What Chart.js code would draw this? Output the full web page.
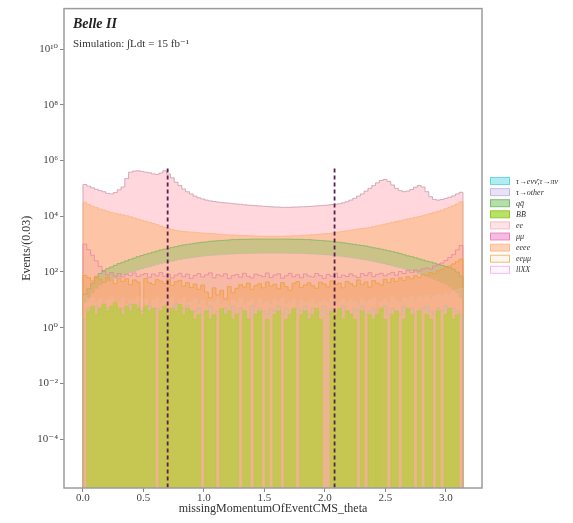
<!DOCTYPE html>
<html><head><meta charset="UTF-8"><title>missingMomentumOfEventCMS_theta</title>
<script src="https://cdn.jsdelivr.net/npm/chart.js"></script>
<style>html,body{margin:0;padding:0;background:#fff;}</style>
</head><body>
<canvas id="c" width="573" height="523"></canvas>
<script>
// --- binning ---
const X_MAX = Math.PI;
const N_BINS = 100;
const BIN_W = X_MAX / N_BINS;
const FLOOR = 1e-9; // empty bins drop below the axis

// --- series (events per bin) ---
const labels = ['τ→eνν̄,τ→πν', 'τ→other', 'qq̄', 'BB̄', 'ee', 'μμ', 'eeee', 'eeμμ', 'llXX'];

const tauLep = [2,5,4,6,3,7,5,4,6,3, 5,4,7,3,6,5,4,6,3,5, 4,6,5,3,7,4,5,6,3,4, 5,3,4,6,2,4,3,5,4,6,
  3,5,4,2,6,3,5,4,3,5, 4,6,3,5,4,2,5,4,6,3, 5,3,4,6,3,5,4,3,6,4, 3,5,4,6,3,4,5,0,4,6,
  3,5,4,3,6,4,5,3,4,5, 6,4,3,5,4,6,3,5,4,3];
const tauOther = [8,12,18,26,34,42,48,54,60,68, 76,85,95,105,118,130,142,155,170,185, 200,215,230,245,262,280,298,312,326,340,
  355,368,380,392,402,412,420,428,436,444, 450,455,460,462,465,468,470,470,472,472, 472,470,470,468,466,463,460,456,452,446,
  440,432,424,415,405,395,382,370,356,342, 328,312,298,282,268,252,238,222,208,194, 180,166,154,141,130,118,108,98,88,79,
  70,62,55,48,42,36,30,24,18,12];
const qq = [16,25,40,63,89,112,132,151,174,200, 224,251,282,316,355,389,427,468,513,562, 617,661,708,759,813,871,933,977,1020,1070,
  1120,1170,1200,1260,1290,1320,1350,1380,1410,1450, 1450,1480,1480,1480,1510,1510,1510,1510,1510,1510, 1510,1510,1510,1510,1510,1480,1480,1480,1450,1450,
  1410,1380,1350,1320,1290,1260,1200,1170,1120,1070, 1020,977,933,891,851,794,741,708,661,617, 575,537,501,457,417,380,355,324,295,269,
  245,229,209,191,174,158,145,126,100,71];
const bb = [0,4,6,3,5,7,4,6,8,5, 3,6,4,7,5,3,6,4,5,0, 4,6,3,5,4,7,3,5,4,2, 3,0,4,2,3,0,5,3,4,2,
  3,0,4,2,0,3,4,0,2,0, 3,4,0,2,3,5,0,3,4,2, 3,5,2,0,0,4,3,5,2,4, 3,2,0,4,0,3,2,3,5,2,
  0,3,4,0,2,5,3,0,4,0, 3,2,0,4,0,3,5,2,3,0];
const ee = [138000,120000,105000,93000,83000,76000,66000,63000,71000,89000, 112000,224000,380000,417000,427000,407000,380000,363000,331000,316000,
  355000,427000,331000,240000,166000,126000,95000,76000,63000,52500, 45700,41700,38000,35500,33900,32400,30900,30200,29500,28200,
  27500,26900,25700,25100,24500,24000,23400,22900,22400,21900, 21400,21400,20900,20900,20900,21400,21400,21900,21900,22400,
  22900,23400,24000,24500,25100,26300,26900,28200,30200,33100, 38000,43700,52500,63000,79400,100000,126000,158000,191000,209000,
  178000,132000,100000,83000,76000,79400,91200,110000,126000,112000, 76000,50100,39800,38000,39800,43700,47900,53700,63000,72400];
const mumu = [1000,630,400,250,160,105,78,95,70,88, 66,82,74,92,68,79,88,64,85,72, 95,70,83,61,77,90,68,84,59,75,
  88,66,79,93,62,80,71,86,58,74, 82,65,90,70,61,84,76,68,92,63, 78,86,60,73,89,67,80,62,85,71,
  66,88,74,59,82,70,91,64,77,69, 86,72,63,88,75,94,68,82,90,73, 85,97,76,104,88,112,95,120,108,130,
  140,128,165,180,210,260,330,420,620,900];
const eeee = [31600,26300,22900,20400,18200,16600,15100,13800,12900,12000, 11200,10500,9550,8710,7940,7240,6610,6030,5500,5010,
  4470,3980,3550,3310,3090,2950,2880,2750,2690,2630, 2570,2510,2450,2400,2340,2290,2240,2190,2140,2140,
  2090,2040,2040,2000,2000,1950,1950,1910,1910,1910, 1910,1910,1910,1950,1950,2000,2000,2040,2090,2140,
  2190,2240,2290,2340,2400,2510,2630,2750,2880,3020, 3160,3310,3470,3630,3800,3980,4270,4570,4900,5250,
  5620,6030,6460,6920,7410,7940,8510,9120,9770,10500, 11500,12600,13800,15100,16600,18600,20900,24000,27500,33100];
const eemumu = [75,62,48,70,55,42,66,51,38,60, 46,57,35,52,44,4,58,41,36,53, 47,39,55,33,45,50,31,42,28,37,
  24,34,19,12,27,15,22,11,30,18, 26,35,29,40,24,33,38,27,44,31, 36,25,42,30,22,39,45,28,34,41,
  32,26,43,37,29,48,35,40,27,46, 38,31,52,36,44,29,49,40,34,55, 42,58,46,62,50,68,57,74,64,82,
  76,95,88,110,125,140,165,195,240,290];
const llxx = [14,9,12,8,11,7,10,13,8,9, 12,7,10,9,13,8,11,6,10,12, 8,11,9,13,7,10,12,8,9,11,
  7,10,6,9,8,11,7,9,6,10, 8,12,7,9,10,6,11,8,9,7, 10,8,12,7,9,11,6,10,8,9,
  11,7,9,10,8,12,7,9,11,8, 10,9,7,11,8,10,12,0,9,11, 8,13,10,9,12,11,14,10,13,12,
  15,11,14,16,13,18,15,20,22,26];

// cut positions and axis ticks
const cutLines = [0.7, 2.08];
const cutTop = 5.2e5;
const xTicks = [0, 0.5, 1.0, 1.5, 2.0, 2.5, 3.0];
const yTickExps = [-4, -2, 0, 2, 4, 6, 8, 10];

// --- style: [data, fill, edge, draw order (higher = further back), fill target] ---
// qq̄ is shaded only down to the τ→other line, the rest down to the axis
const series = [
  [tauLep,   'rgba(80,215,225,0.06)',  'rgba(120,200,200,0.25)', 2, 'start'],
  [tauOther, 'rgba(200,170,220,0.08)', 'rgba(200,170,200,0.35)', 7, 'start'],
  [qq,       'rgba(120,190,90,0.38)',  'rgba(120,180,90,0.75)', 6, 1],
  [bb,       'rgba(175,210,45,0.62)',  'rgba(175,205,45,0.45)', 1, 'start'],
  [ee,       'rgba(255,182,193,0.55)', 'rgba(200,160,175,0.85)', 9, 'start'],
  [mumu,     'rgba(245,130,150,0.16)', 'rgba(230,120,160,0.65)', 5, 'start'],
  [eeee,     'rgba(250,175,100,0.45)', 'rgba(250,175,110,0.6)', 8, 'start'],
  [eemumu,   'rgba(245,160,85,0.45)',  'rgba(240,160,60,0.85)', 4, 'start'],
  [llxx,     'rgba(255,205,235,0.10)', 'rgba(225,190,160,0.5)', 3, 'start']
];
// legend swatches as they appear in the key
const swatches = [
  ['rgba(80,215,225,0.45)',  'rgba(60,205,220,0.7)'],
  ['rgba(205,190,230,0.45)', 'rgba(185,165,215,0.7)'],
  ['rgba(120,195,100,0.55)', 'rgba(100,180,90,0.8)'],
  ['rgba(160,215,50,0.75)',  'rgba(140,200,40,0.9)'],
  ['rgba(255,192,200,0.45)', 'rgba(240,180,185,0.8)'],
  ['rgba(240,130,200,0.55)', 'rgba(230,120,190,0.8)'],
  ['rgba(255,170,110,0.5)',  'rgba(255,170,120,0.7)'],
  ['rgba(255,230,200,0.3)',  'rgba(240,180,100,0.9)'],
  ['rgba(255,225,250,0.3)',  'rgba(240,170,240,0.8)']
];

const SUP = {'0':'⁰','1':'¹','2':'²','3':'³','4':'⁴','5':'⁵','6':'⁶','7':'⁷','8':'⁸','9':'⁹','-':'⁻'};
const sup = s => String(s).split('').map(ch => SUP[ch]).join('');

// step outline: points at bin centres, steps half way = bin edges
function histPoints(vals) {
  const pts = [{x: 0, y: FLOOR}, {x: 0, y: vals[0] || FLOOR}];
  vals.forEach((v, i) => pts.push({x: (i + 0.5) * BIN_W, y: v || FLOOR}));
  pts.push({x: X_MAX, y: vals[vals.length - 1] || FLOOR}, {x: X_MAX, y: FLOOR});
  return pts;
}

const datasets = series.map((s, i) => ({
  label: labels[i],
  data: histPoints(s[0]),
  backgroundColor: s[1],
  borderColor: s[2],
  borderWidth: 1,
  fill: s[4],
  stepped: 'middle',
  pointRadius: 0,
  order: s[3]
}));
cutLines.forEach(x => datasets.push({
  label: 'cut',
  data: [{x: x, y: FLOOR}, {x: x, y: cutTop}],
  borderColor: '#5a1f4e',
  borderWidth: 1.8,
  borderDash: [4, 3],
  fill: false,
  pointRadius: 0,
  order: 0
}));

const SERIF = "'Liberation Serif', 'DejaVu Serif', serif";

// frame, Belle II label and the legend
const decor = {
  id: 'decor',
  afterDraw(chart) {
    const {ctx, chartArea: a} = chart;
    ctx.save();
    ctx.strokeStyle = '#9c9c9c';
    ctx.lineWidth = 1.5;
    ctx.strokeRect(a.left, a.top, a.right - a.left, a.bottom - a.top);

    ctx.fillStyle = '#222';
    ctx.textBaseline = 'alphabetic';
    ctx.font = 'bold italic 14px ' + SERIF;
    ctx.fillText('Belle II', 73, 28);
    ctx.fillStyle = '#333';
    ctx.font = '11px ' + SERIF;
    ctx.fillText('Simulation: ∫Ldt = 15 fb⁻¹', 73, 47);

    ctx.font = 'italic 8px ' + SERIF;
    ctx.textBaseline = 'middle';
    swatches.forEach((s, i) => {
      const y = 181 + i * 11.1;
      ctx.fillStyle = s[0];
      ctx.fillRect(490, y - 3.5, 20, 7);
      ctx.strokeStyle = s[1];
      ctx.lineWidth = 1;
      ctx.strokeRect(490.5, y - 3.5, 19, 7);
      ctx.fillStyle = '#333';
      ctx.fillText(labels[i], 516, y + 0.5);
    });
    ctx.restore();
  }
};

new Chart(document.getElementById('c'), {
  type: 'line',
  data: {datasets: datasets},
  options: {
    responsive: false,
    animation: false,
    layout: {padding: {left: 0, right: 91, top: 7, bottom: 0}},
    plugins: {legend: {display: false}, tooltip: {enabled: false}},
    scales: {
      x: {
        type: 'linear',
        min: -0.157,
        max: 3.299,
        afterFit: s => { s.height = 35; },
        afterBuildTicks: s => { s.ticks = xTicks.map(v => ({value: v})); },
        ticks: {
          callback: v => v.toFixed(1),
          color: '#444',
          font: {family: SERIF, size: 11},
          padding: 0,
          maxRotation: 0
        },
        grid: {drawOnChartArea: false, tickLength: 4, color: '#888'},
        border: {display: false},
        title: {display: true, text: 'missingMomentumOfEventCMS_theta', color: '#333',
          font: {family: SERIF, size: 12}, padding: {top: 0, bottom: 7}}
      },
      y: {
        type: 'logarithmic',
        min: Math.pow(10, -5.75),
        max: Math.pow(10, 11.45),
        afterFit: s => { s.width = 64; },
        afterBuildTicks: s => { s.ticks = yTickExps.map(e => ({value: Math.pow(10, e)})); },
        ticks: {
          callback: v => '10' + sup(Math.round(Math.log10(v))),
          color: '#444',
          font: {family: SERIF, size: 11},
          padding: 2
        },
        grid: {drawOnChartArea: false, tickLength: 4, color: '#888'},
        border: {display: false},
        title: {display: true, text: 'Events/(0.03)', color: '#333',
          font: {family: SERIF, size: 12}, padding: {top: 20, bottom: 0}}
      }
    }
  },
  plugins: [decor]
});
</script>
</body></html>
